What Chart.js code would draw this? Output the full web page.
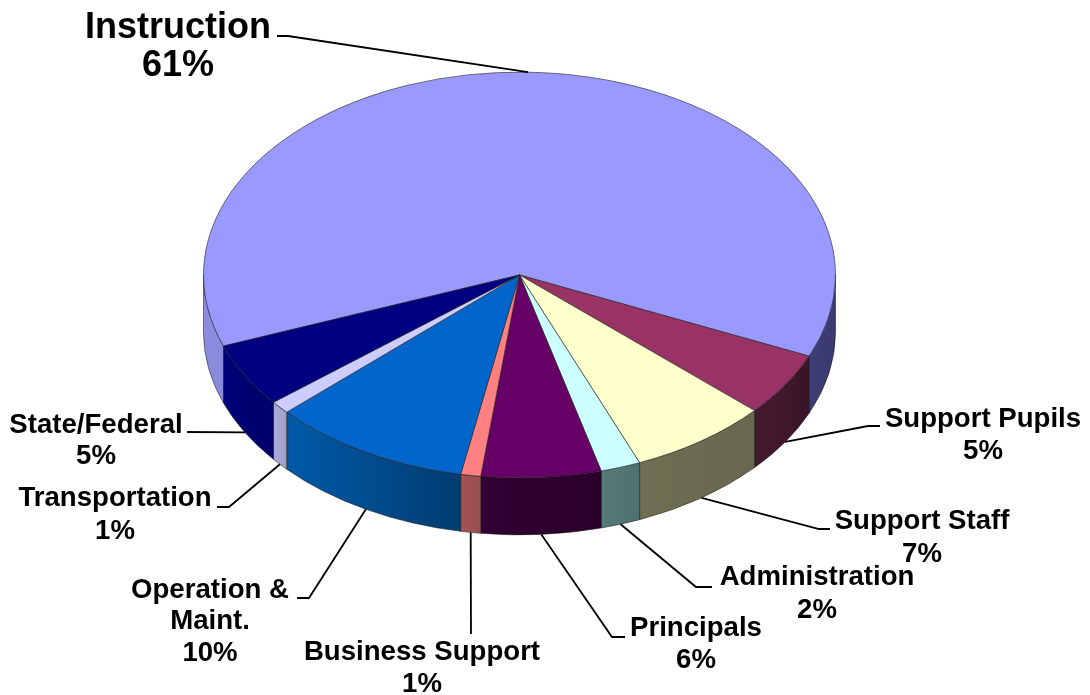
<!DOCTYPE html>
<html>
<head>
<meta charset="utf-8">
<title>Spending by category</title>
<script src="https://cdn.jsdelivr.net/npm/chart.js@4/dist/chart.umd.min.js"></script>
<style>
  html, body { margin: 0; padding: 0; background: #fff; }
  canvas { display: block; }
</style>
</head>
<body>
<canvas id="pie" width="1090" height="695"></canvas>
<script>
'use strict';
const categories = ['Instruction', 'Support Pupils', 'Support Staff', 'Administration', 'Principals',
                    'Business Support', 'Operation & Maint.', 'Transportation', 'State/Federal'];
const shares     = [61, 5, 7, 2, 6, 1, 10, 1, 5];
const topColors  = ['#9999ff', '#993366', '#ffffcc', '#ccffff', '#660066', '#ff8080', '#0066cc', '#ccccff', '#000080'];
const wallLeft   = ['#8c8ce0', '#451a30', '#6e6e52', '#557a7a', '#330033', '#a55252', '#005aa8', '#aaaad8', '#000078'];
const wallRight  = ['#3a3a70', '#3a1526', '#686850', '#4f7070', '#2a002a', '#985050', '#003c70', '#a0a0cc', '#000068'];

// label placement, same order as categories
const labelStyle = [
  { x: 178, ys: [38, 76],        size: 36, elbow: [[288, 36], [277, 36]] },
  { x: 983, ys: [427, 459],      size: 27.6, elbow: [[868, 426], [880, 426]] },
  { x: 922, ys: [529, 562],      size: 27.6, elbow: [[819, 529], [830, 529]] },
  { x: 817, ys: [585, 618],      size: 27.6, elbow: [[696, 587], [712, 587]] },
  { x: 696, ys: [636, 668],      size: 27.6, elbow: [[612, 637], [625, 637]] },
  { x: 422, ys: [660, 692],      size: 27.6, elbow: [[471, 634]] },
  { x: 210, ys: [598, 629, 661], size: 27.6, elbow: [[309, 598], [297, 598]] },
  { x: 115, ys: [506, 539],      size: 27.6, elbow: [[229, 507], [217, 507]] },
  { x: 96,  ys: [433, 464],      size: 27.6, elbow: [[187, 432]] },
];

const TILT = 0.642;      // ellipse height / width of the pie top
const DEPTH = 57;        // wall height in px
const TOP_CY = 275;      // screen y of the pie centre

function labelLines(i) {
  const name = categories[i] === 'Operation & Maint.' ? ['Operation &', 'Maint.'] : [categories[i]];
  return [...name, shares[i] + '%'];
}

const pie3d = {
  id: 'pie3d',

  // side walls go down first, then the flat arcs get squashed into an ellipse
  beforeDatasetsDraw(chart) {
    const ctx = chart.ctx;
    const arcs = chart.getDatasetMeta(0).data;
    arcs.forEach((arc, i) => {
      const ry = arc.outerRadius * TILT;
      for (let k = -1; k <= 2; k++) {
        const a = Math.max(arc.startAngle, k * 2 * Math.PI);
        const b = Math.min(arc.endAngle, k * 2 * Math.PI + Math.PI);
        if (a >= b) continue;
        const xA = arc.x + arc.outerRadius * Math.cos(a);
        const xB = arc.x + arc.outerRadius * Math.cos(b);
        const whole = i === 0;
        const grad = ctx.createLinearGradient(
          whole ? arc.x - arc.outerRadius : Math.min(xA, xB), 0,
          whole ? arc.x + arc.outerRadius : Math.max(xA, xB), 0);
        grad.addColorStop(0, wallLeft[i]);
        grad.addColorStop(1, wallRight[i]);
        ctx.beginPath();
        ctx.ellipse(arc.x, TOP_CY, arc.outerRadius, ry, 0, a, b);
        ctx.ellipse(arc.x, TOP_CY + DEPTH, arc.outerRadius, ry, 0, b, a, true);
        ctx.closePath();
        ctx.fillStyle = grad;
        ctx.fill();
        ctx.strokeStyle = 'rgba(30,30,30,0.55)';
        ctx.lineWidth = 1;
        ctx.stroke();
      }
    });
    const cx = arcs[0].x, cy = arcs[0].y;
    ctx.save();
    ctx.translate(cx, TOP_CY);
    ctx.scale(1, TILT);
    ctx.translate(-cx, -cy);
  },

  afterDatasetsDraw(chart) {
    const ctx = chart.ctx;
    ctx.restore();

    chart.getDatasetMeta(0).data.forEach((arc, i) => {
      const mid = (arc.startAngle + arc.endAngle) / 2;
      const sy = Math.sin(mid);
      const style = labelStyle[i];

      // leader line from the rim of the slice out to its label
      ctx.beginPath();
      ctx.moveTo(arc.x + arc.outerRadius * Math.cos(mid),
                 TOP_CY + arc.outerRadius * TILT * sy + (sy > 0 ? DEPTH : 0));
      style.elbow.forEach(p => ctx.lineTo(p[0], p[1]));
      ctx.strokeStyle = '#000';
      ctx.lineWidth = 1.8;
      ctx.stroke();

      ctx.fillStyle = '#000';
      ctx.textAlign = 'center';
      ctx.textBaseline = 'alphabetic';
      ctx.font = `bold ${style.size}px "Liberation Sans", Arial, sans-serif`;
      labelLines(i).forEach((line, n) => ctx.fillText(line, style.x, style.ys[n]));
    });
  },
};

new Chart(document.getElementById('pie'), {
  type: 'pie',
  data: {
    labels: categories,
    datasets: [{
      data: shares,
      backgroundColor: topColors,
      borderColor: 'rgba(35,35,35,0.75)',
      borderWidth: 1,
    }],
  },
  options: {
    responsive: false,
    animation: false,
    rotation: 249.5,
    layout: { padding: { left: 203, right: 254, top: 0, bottom: 0 } },
    plugins: { legend: { display: false }, tooltip: { enabled: false }, title: { display: false } },
  },
  plugins: [pie3d],
});
</script>
</body>
</html>
